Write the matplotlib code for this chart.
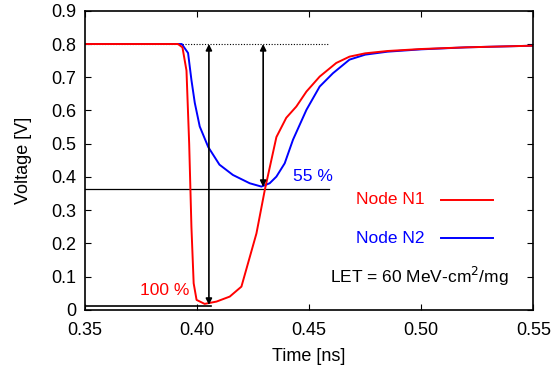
import numpy as np
import matplotlib.pyplot as plt

plt.rcParams['font.family'] = ['Liberation Sans', 'DejaVu Sans']

# Node N1 (red) transient
t_n1 = [0.35, 0.385, 0.3915, 0.3935, 0.3953, 0.3965, 0.3975, 0.3985, 0.3998, 0.4034,
        0.4087, 0.4146, 0.4198, 0.4265, 0.4302, 0.4354, 0.4398, 0.4443, 0.4488,
        0.4547, 0.4621, 0.468, 0.475, 0.485, 0.50, 0.52, 0.55]
v_n1 = [0.80, 0.80, 0.80, 0.79, 0.72, 0.50, 0.25, 0.08, 0.03, 0.018,
        0.025, 0.04, 0.07, 0.23, 0.36, 0.52, 0.578, 0.612, 0.657,
        0.702, 0.743, 0.762, 0.772, 0.779, 0.785, 0.79, 0.795]

# Node N2 (blue) transient
t_n2 = [0.35, 0.385, 0.3932, 0.396, 0.3975, 0.399, 0.4012, 0.405, 0.410, 0.416,
        0.4235, 0.4287, 0.4324, 0.4354, 0.4391, 0.4428, 0.4488, 0.4547, 0.4606,
        0.468, 0.475, 0.485, 0.50, 0.52, 0.55]
v_n2 = [0.80, 0.80, 0.80, 0.773, 0.692, 0.623, 0.552, 0.49, 0.437, 0.406,
        0.381, 0.371, 0.381, 0.401, 0.441, 0.512, 0.602, 0.672, 0.712,
        0.753, 0.768, 0.777, 0.784, 0.79, 0.795]

x_ticks = [0.35, 0.40, 0.45, 0.50, 0.55]
x_labels = ['0.35', '0.40', '0.45', '0.50', '0.55']
y_ticks = [0, 0.1, 0.2, 0.3, 0.4, 0.5, 0.6, 0.7, 0.8, 0.9]
y_labels = ['0', '0.1', '0.2', '0.3', '0.4', '0.5', '0.6', '0.7', '0.8', '0.9']

fig = plt.figure(figsize=(5.55, 3.72), dpi=100)
ax = fig.add_axes([0.153, 0.167, 0.808, 0.804])

# reference lines
ax.plot([0.35, 0.459], [0.8, 0.8], color='black', lw=0.8, ls=(0, (1, 1.5)))
ax.plot([0.35, 0.459], [0.365, 0.365], color='black', lw=0.9)
ax.plot([0.35, 0.4064], [0.013, 0.013], color='black', lw=1.2)

ax.plot(t_n2, v_n2, color='#0000ff', lw=1.4)
ax.plot(t_n1, v_n1, color='#ff0000', lw=1.4)

# double arrows
arrow = dict(arrowstyle='<|-|>', color='black', lw=1.2, mutation_scale=9,
             shrinkA=0, shrinkB=0)
ax.annotate('', xy=(0.4053, 0.8), xytext=(0.4053, 0.015), arrowprops=arrow)
ax.annotate('', xy=(0.4295, 0.8), xytext=(0.4295, 0.37), arrowprops=arrow)

ax.text(0.3854, 0.058, '100 %', color='#ff0000', fontsize=12.5, ha='center', va='center')
ax.text(0.4516, 0.401, '55 %', color='#0000ff', fontsize=12.5, ha='center', va='center')

# legend drawn by hand
ax.text(0.5015, 0.331, 'Node N1', color='#ff0000', fontsize=12.5, ha='right', va='center')
ax.plot([0.5089, 0.5322], [0.331, 0.331], color='#ff0000', lw=1.4)
ax.text(0.5015, 0.216, 'Node N2', color='#0000ff', fontsize=12.5, ha='right', va='center')
ax.plot([0.5089, 0.5322], [0.216, 0.216], color='#0000ff', lw=1.4)
ax.text(0.4992, 0.10, 'LET = 60 MeV-cm$^2$/mg', color='black', fontsize=12.5,
        ha='center', va='center')

ax.set_xlim(0.35, 0.55)
ax.set_ylim(0, 0.9)
ax.set_xticks(x_ticks)
ax.set_xticklabels(x_labels)
ax.set_yticks(y_ticks)
ax.set_yticklabels(y_labels)
ax.tick_params(direction='in', top=True, right=True, labelsize=13, length=4, pad=6)
ax.tick_params(axis='x', pad=9)
ax.set_xlabel('Time [ns]', fontsize=13, labelpad=6)
ax.set_ylabel('Voltage [V]', fontsize=13, labelpad=14)
for s in ax.spines.values():
    s.set_linewidth(1.2)

fig.savefig('out.png', dpi=100)
